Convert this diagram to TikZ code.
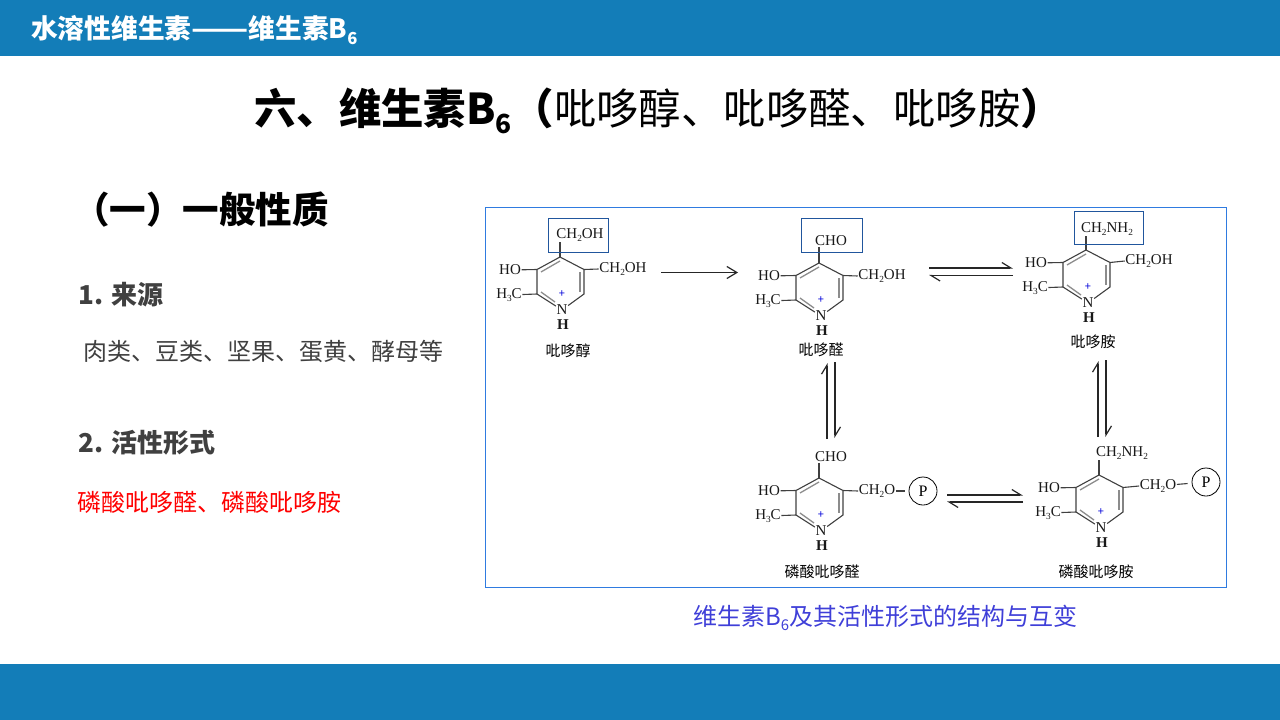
\documentclass[tikz,border=0pt]{standalone}
\usepackage{fontspec}
\usetikzlibrary{arrows.meta}
\setmainfont{Noto Sans CJK SC}
\newfontfamily\chemfont{Liberation Serif}
\definecolor{barblue}{HTML}{137DB8}
\definecolor{frameblue}{HTML}{2F7BE0}
\definecolor{capblue}{HTML}{3F3FD8}
\definecolor{darktxt}{HTML}{404040}
\newcommand{\low}[1]{\raisebox{-0.2em}{\scalebox{0.62}{#1}}}
\tikzset{
  bar/.style={fill=barblue,draw=none},
  bond/.style={line width=1.1pt,black!75},
  inbond/.style={line width=1.3pt,black!45},
  chem/.style={inner sep=0.5pt,font=\chemfont\fontsize{15}{15}\selectfont,black!90},
  cname/.style={inner sep=0pt,font=\fontsize{15}{16}\selectfont,black},
  selbox/.style={draw=frameblue!70!black,line width=0.9pt,inner sep=0pt},
  phos/.style={draw,circle,line width=0.8pt,minimum size=28pt,inner sep=0pt,font=\chemfont\fontsize{16}{16}\selectfont},
  harp/.style={line width=1.2pt,black!85,-{Straight Barb[left,length=9pt,width=11pt]}},
  head/.style={anchor=west,inner sep=0pt}
}
\begin{document}
\begin{tikzpicture}[x=1pt,y=-1pt]
\useasboundingbox (0,0) rectangle (1280,720);
\fill[bar] (0,0) rectangle (1280,56);
\fill[bar] (0,664) rectangle (1280,720);
% headings
\node[head,white,font=\bfseries\fontsize{26.7}{29}\selectfont] (toptitle) at (31,30) {水溶性维生素\scalebox{1.25}[1]{——}维生素B\low{6}};
\node[head,font=\fontsize{42.4}{46}\selectfont] (maintitle) at (254,111) {\textbf{六、维生素B\low{6}（}吡哆醇、吡哆醛、吡哆胺\textbf{）}};
\node[head,font=\bfseries\fontsize{36.5}{38}\selectfont] (sect) at (73,210) {（一）一般性质};
\node[head,darktxt,font=\bfseries\fontsize{26}{28}\selectfont] (src) at (78,294.5) {1. 来源};
\node[head,darktxt,font=\fontsize{24}{26}\selectfont] (srctxt) at (83,351) {肉类、豆类、坚果、蛋黄、酵母等};
\node[head,darktxt,font=\bfseries\fontsize{26}{28}\selectfont] (act) at (78,443) {2. 活性形式};
\node[head,red,font=\fontsize{24}{26}\selectfont] (acttxt) at (77,502) {磷酸吡哆醛、磷酸吡哆胺};
\node[head,capblue,font=\fontsize{24}{26}\selectfont] (caption) at (693,618) {维生素B\low{6}及其活性形式的结构与互变};
\node[draw=frameblue,line width=0.9pt,minimum width=741pt,minimum height=380pt,inner sep=0pt] (frame) at (855.5,397) {};
% rings
\foreach \m/\x/\y/\nx/\ny/\nm in {pn/560/257/8/94/吡哆醇, pl/819/263/2/87/吡哆醛, pm/1086/250/7/92/吡哆胺, plp/819/478/3/94/磷酸吡哆醛, pmp/1099/475/-3/97/磷酸吡哆胺}{
\begin{scope}[shift={(\x,\y)}]
\coordinate (\m top) at (0,0);
\coordinate (\m ur) at (24,12.5);
\coordinate (\m lr) at (24,37);
\coordinate (\m ll) at (-23,37);
\coordinate (\m ul) at (-23,12.5);
\node[chem] (\m N) at (2,53) {N};
\node[chem,font=\chemfont\bfseries\fontsize{15}{15}\selectfont] (\m H) at (3,68) {H};
\node[chem] (\m HO) at (-50,13) {HO};
\node[chem] (\m Me) at (-51,38) {H\low{3}C};
\node[inner sep=0pt,blue!85!black,font=\fontsize{11}{11}\selectfont] (\m plus) at (2,37) {+};
\node[cname] (\m name) at (\nx,\ny) {\nm};
\draw[bond] (\m ul) -- (\m top) -- (\m ur) -- (\m lr) -- (\m N) -- (\m ll) -- (\m ul);
\draw[inbond] (-19,15) -- (0,4);
\draw[inbond] (20,15) -- (20,35);
\draw[inbond] (-19,35) -- (-5,45);
\draw[bond] (\m HO) -- (\m ul);
\draw[bond] (\m Me) -- (\m ll);
\end{scope}
}
% side chains
\node[chem] (pn4) at (580,235) {CH\low{2}OH};
\node[chem] (pn5) at (623,269) {CH\low{2}OH};
\node[chem] (pl4) at (831,241) {CHO};
\node[chem] (pl5) at (882,276) {CH\low{2}OH};
\node[chem] (pm4) at (1107,229) {CH\low{2}NH\low{2}};
\node[chem] (pm5) at (1149,261) {CH\low{2}OH};
\node[chem] (plp4) at (831,457) {CHO};
\node[chem] (plp5) at (877,491) {CH\low{2}O};
\node[chem] (pmp4) at (1122,453) {CH\low{2}NH\low{2}};
\node[chem] (pmp5) at (1158,486) {CH\low{2}O};
\node[phos] (plpP) at (923,491) {P};
\node[phos] (pmpP) at (1206,482) {P};
\foreach \m in {pn,pl,pm,plp,pmp}{
\draw[bond] (\m top) -- (\m top|-\m4.south);
\draw[bond] (\m ur) -- (\m5.west);
}
\draw[bond,shorten >=4pt] (plp5) -- (plpP);
\draw[bond,shorten >=4pt] (pmp5) -- (pmpP);
% boxes
\node[selbox,minimum width=60pt,minimum height=34pt] (pnbox) at (578,235) {};
\node[selbox,minimum width=61pt,minimum height=34pt] (plbox) at (831.5,235) {};
\node[selbox,minimum width=69pt,minimum height=33pt] (pmbox) at (1108.5,227.5) {};
% arrows
\coordinate (a1) at (661,272.5);
\coordinate (a2) at (738,272.5);
\draw[line width=1.2pt,black!85,-{Straight Barb[length=10pt,width=12pt]}] (a1) -- (a2);
\foreach \h/\ax/\ay/\bx/\by in {h1/929/268/1013/268, h2/1013/275.5/929/275.5, h3/947/495/1023/495, h4/1023/502/947/502, h5/827/439/827/363, h6/835/362/835/438, h7/1098/437/1098/361, h8/1106/360/1106/437}{
\coordinate (\h a) at (\ax,\ay);
\coordinate (\h b) at (\bx,\by);
\draw[harp] (\h a) -- (\h b);
}
\end{tikzpicture}
\end{document}
